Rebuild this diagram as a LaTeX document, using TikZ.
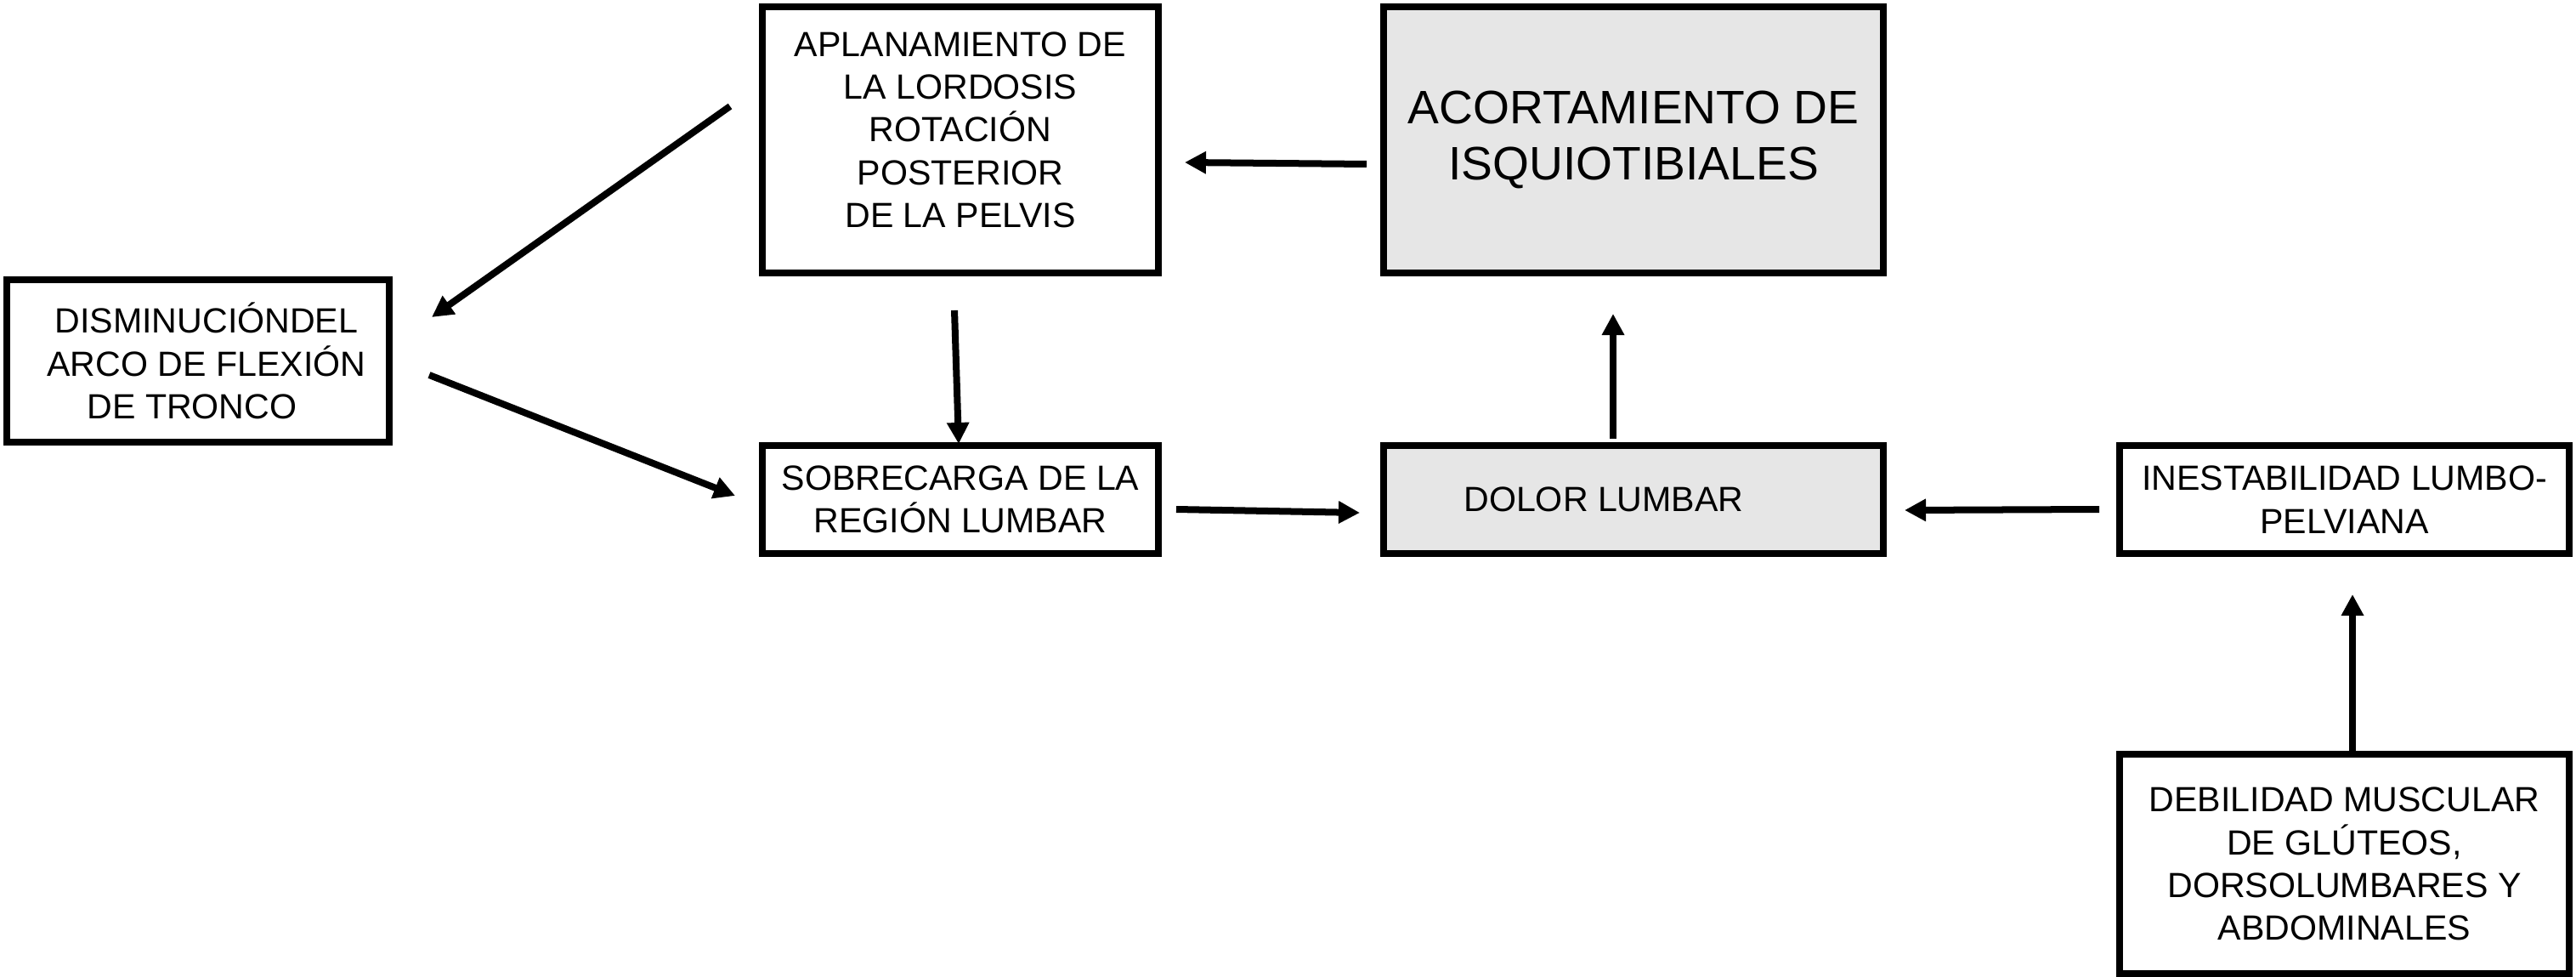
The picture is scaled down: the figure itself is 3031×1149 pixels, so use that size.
\documentclass[tikz,border=0pt]{standalone}
\usepackage{fontspec}
\setmainfont{Liberation Sans}
\usetikzlibrary{arrows.meta}
\definecolor{boxgray}{RGB}{230,230,230}
\begin{document}
\begin{tikzpicture}[x=0.01cm,y=-0.01cm,
  box/.style={draw=black, line width=0.08cm, fill=white, align=center, inner sep=0pt,
    font=\fontsize{11.7}{14.3}\selectfont},
  graybox/.style={box, fill=boxgray},
  arr/.style={line width=0.08cm, -{Triangle[length=0.25cm,width=0.25cm]}}]
\useasboundingbox (0,0) rectangle (3031,1149);

\node[box, minimum width=4.5cm, minimum height=1.91cm] (dis) at (233,424.5)
  {\hspace*{0.2cm}DISMINUCIÓNDEL\\\hspace*{0.2cm}ARCO DE FLEXIÓN\\DE TRONCO\hspace*{0.14cm}};
\node[box, minimum width=4.66cm, minimum height=3.13cm] (apl) at (1130,164.5)
  {APLANAMIENTO DE\\LA LORDOSIS\\ROTACIÓN\\POSTERIOR\\DE LA PELVIS\\[-0.265cm]\mbox{}};
\node[graybox, minimum width=5.88cm, minimum height=3.13cm,
  font=\fontsize{15.7}{18.7}\selectfont] (aco) at (1922,164.5)
  {ACORTAMIENTO DE\\ISQUIOTIBIALES};
\node[box, minimum width=4.66cm, minimum height=1.27cm] (sob) at (1130,587.5)
  {SOBRECARGA DE LA\\REGIÓN LUMBAR};
\node[graybox, minimum width=5.88cm, minimum height=1.27cm] (dol) at (1922,587.5)
  {DOLOR LUMBAR\hspace*{0.7cm}};
\node[box, minimum width=5.29cm, minimum height=1.27cm] (ine) at (2758.5,587.5)
  {INESTABILIDAD LUMBO-\\PELVIANA};
\node[box, minimum width=5.29cm, minimum height=2.58cm] (deb) at (2758.5,1016)
  {DEBILIDAD MUSCULAR\\DE GLÚTEOS,\\DORSOLUMBARES Y\\ABDOMINALES};

% free arrow ends
\coordinate (a1s) at (859,125);  \coordinate (a1e) at (508,373);
\coordinate (a2s) at (505,441);  \coordinate (a2e) at (865,583);
\coordinate (a3s) at (1123,365); \coordinate (a3e) at (1128,522);
\coordinate (a4s) at (1608,193); \coordinate (a4e) at (1394,191);
\coordinate (a5s) at (1384,599); \coordinate (a5e) at (1600,603);
\coordinate (a6s) at (1898,516); \coordinate (a6e) at (1898,369);
\coordinate (a7s) at (2470,599); \coordinate (a7e) at (2241,600);
\coordinate (a8s) at (2768,885); \coordinate (a8e) at (2768,699);

\draw[arr] (a1s) -- (a1e);
\draw[arr] (a2s) -- (a2e);
\draw[arr] (a3s) -- (a3e);
\draw[arr] (a4s) -- (a4e);
\draw[arr] (a5s) -- (a5e);
\draw[arr] (a6s) -- (a6e);
\draw[arr] (a7s) -- (a7e);
\draw[arr] (a8s) -- (a8e);
\end{tikzpicture}
\end{document}
